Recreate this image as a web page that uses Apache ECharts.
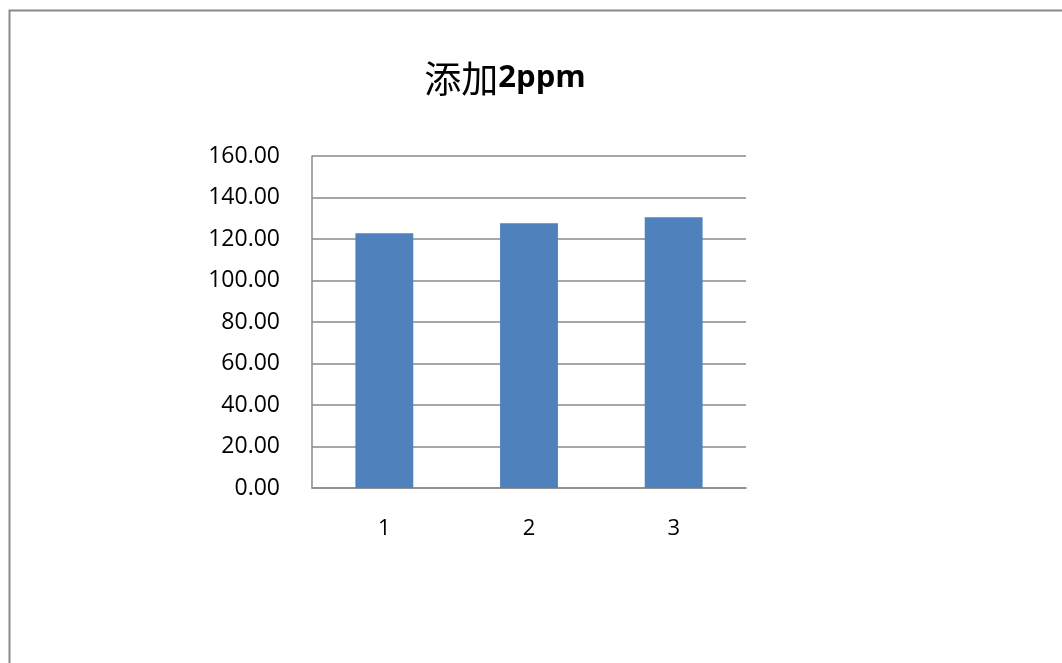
<!DOCTYPE html>
<html>
<head>
<meta charset="utf-8">
<script src="https://cdn.jsdelivr.net/npm/echarts@6/dist/echarts.min.js"></script>
<style>
html,body{margin:0;padding:0;background:#fff;}
#main{width:1062px;height:663px;}
</style>
</head>
<body>
<div id="main"></div>
<script>
const categories = ['1', '2', '3'];
const values = [122.8, 127.6, 130.5];
const yTicks = [0, 20, 40, 60, 80, 100, 120, 140, 160];

const chart = echarts.init(document.getElementById('main'));
chart.setOption({
  animation: false,
  backgroundColor: '#ffffff',
  graphic: [{
    type: 'rect',
    shape: { x: 9.5, y: 10.5, width: 1200, height: 800 },
    style: { fill: 'none', stroke: '#8a8a8a', lineWidth: 2 },
    silent: true
  }],
  title: {
    text: '{a|添加}{b|2ppm}',
    left: 500,
    textAlign: 'center',
    top: 55,
    textStyle: {
      rich: {
        a: { fontFamily: 'Noto Sans CJK SC', fontSize: 37, color: '#000', fontWeight: 'normal' },
        b: { fontFamily: 'Open Sans', fontSize: 31, color: '#000', fontWeight: 'bold' }
      }
    }
  },
  grid: { left: 312, right: 316, top: 156, bottom: 175, containLabel: false },
  xAxis: {
    type: 'category',
    data: categories,
    axisLine: { lineStyle: { color: '#8a8a8a', width: 1.5 } },
    axisTick: { show: false },
    axisLabel: { color: '#000', fontSize: 22, fontFamily: 'Open Sans', margin: 30 }
  },
  yAxis: {
    type: 'value',
    min: yTicks[0],
    max: yTicks[yTicks.length - 1],
    interval: 20,
    axisLine: { show: true, lineStyle: { color: '#8a8a8a', width: 1.5 } },
    axisTick: { show: false },
    splitLine: { lineStyle: { color: '#8a8a8a', width: 1.5 } },
    axisLabel: {
      color: '#000', fontSize: 23, fontFamily: 'Open Sans', margin: 32,
      formatter: v => v.toFixed(2)
    }
  },
  series: [{
    type: 'bar',
    data: values,
    barCategoryGap: '60%',
    itemStyle: { color: '#4F81BD' }
  }]
});
</script>
</body>
</html>
